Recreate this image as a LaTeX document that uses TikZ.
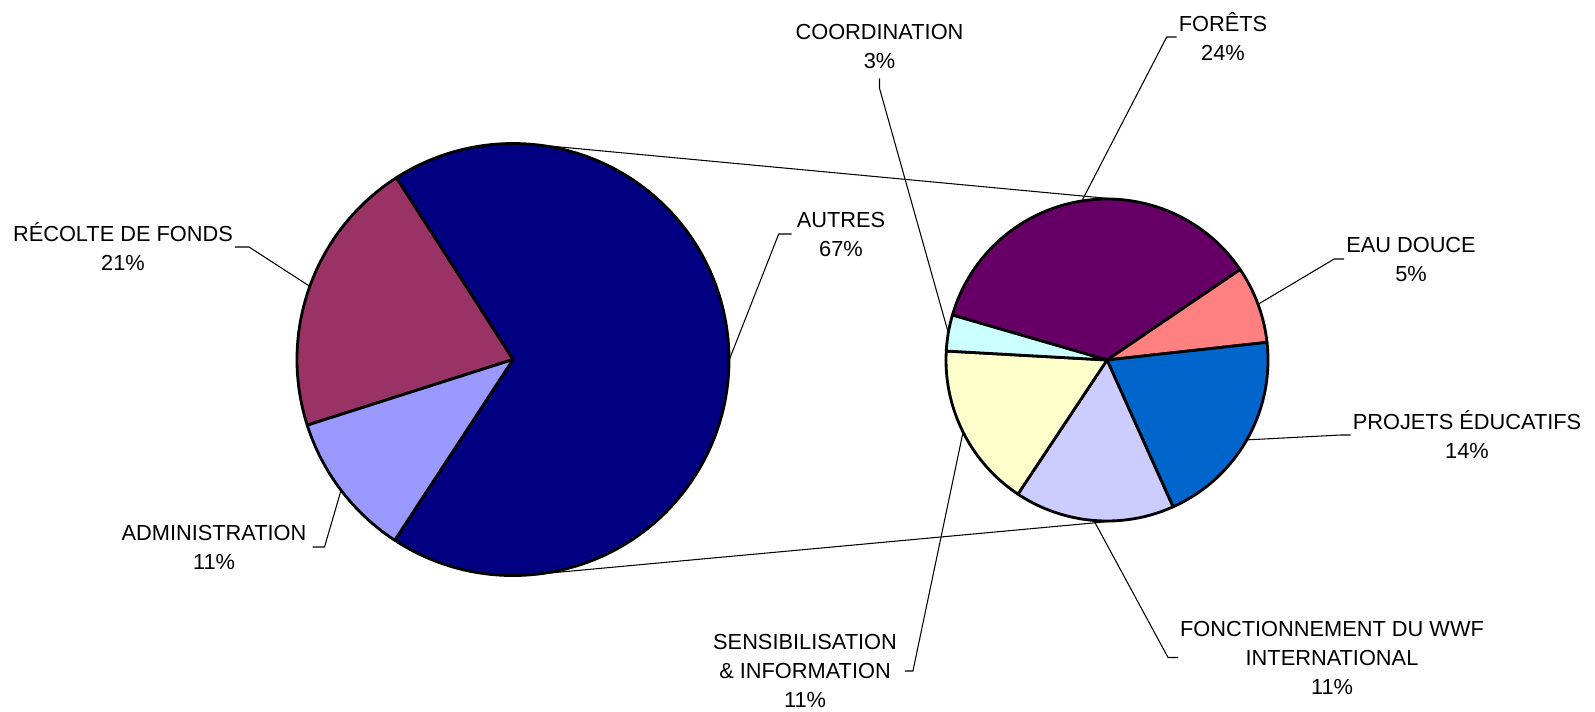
\documentclass[tikz,border=0pt]{standalone}
\usepackage{fontspec}
\setmainfont{Liberation Sans}
\usetikzlibrary{calc}

\definecolor{blunotte}{HTML}{000080}
\definecolor{prugna}{HTML}{993366}
\definecolor{lilla}{HTML}{9999FF}
\definecolor{viola}{HTML}{660066}
\definecolor{salmone}{HTML}{FF8080}
\definecolor{azzurro}{HTML}{0066CC}
\definecolor{glicine}{HTML}{CCCCFF}
\definecolor{crema}{HTML}{FFFFCC}
\definecolor{ghiaccio}{HTML}{CCFFFF}

\begin{document}
\begin{tikzpicture}[x=0.02cm,y=0.02cm]
    % Definizione stili
    \tikzstyle{fetta}=[draw=black, line width=1.6pt, line join=round]
    \tikzstyle{etichetta}=[font=\fontsize{12.4}{16.5}\selectfont, align=center, inner sep=1pt]
    \tikzstyle{guida}=[draw=black, line width=0.6pt]

    \useasboundingbox (0,0) rectangle (1595,-711);

    % Centri delle due torte
    \coordinate (grande) at (513,-359.5);
    \coordinate (piccola) at (1107,-360);

    % Linee di collegamento tra le torte
    \coordinate (big_su) at ($(grande)+(84.7:216)$);
    \coordinate (big_giu) at ($(grande)+(-84.7:216)$);
    \coordinate (small_su) at ($(piccola)+(84.7:161)$);
    \coordinate (small_giu) at ($(piccola)+(-84.7:161)$);
    \draw[guida] (big_su) -- (small_su);
    \draw[guida] (big_giu) -- (small_giu);

    % Torta principale
    \filldraw[fetta, fill=blunotte] (grande) -- ($(grande)+(-123.2:216)$) arc[start angle=-123.2, end angle=122.7, radius=216] -- cycle;
    \filldraw[fetta, fill=prugna] (grande) -- ($(grande)+(122.7:216)$) arc[start angle=122.7, end angle=197.7, radius=216] -- cycle;
    \filldraw[fetta, fill=lilla] (grande) -- ($(grande)+(197.7:216)$) arc[start angle=197.7, end angle=236.8, radius=216] -- cycle;

    % Torta secondaria (dettaglio di AUTRES)
    \filldraw[fetta, fill=viola] (piccola) -- ($(piccola)+(34.2:161)$) arc[start angle=34.2, end angle=163.8, radius=161] -- cycle;
    \filldraw[fetta, fill=salmone] (piccola) -- ($(piccola)+(6.3:161)$) arc[start angle=6.3, end angle=34.2, radius=161] -- cycle;
    \filldraw[fetta, fill=azzurro] (piccola) -- ($(piccola)+(-65.8:161)$) arc[start angle=-65.8, end angle=6.3, radius=161] -- cycle;
    \filldraw[fetta, fill=glicine] (piccola) -- ($(piccola)+(-123.6:161)$) arc[start angle=-123.6, end angle=-65.8, radius=161] -- cycle;
    \filldraw[fetta, fill=crema] (piccola) -- ($(piccola)+(176.8:161)$) arc[start angle=176.8, end angle=236.4, radius=161] -- cycle;
    \filldraw[fetta, fill=ghiaccio] (piccola) -- ($(piccola)+(163.8:161)$) arc[start angle=163.8, end angle=176.8, radius=161] -- cycle;

    % Etichette
    \node[etichetta] (lbl_recolte) at (123,-247) {RÉCOLTE DE FONDS\\21\%};
    \node[etichetta] (lbl_admin) at (214,-547) {ADMINISTRATION\\11\%};
    \node[etichetta] (lbl_autres) at (841,-234) {AUTRES\\67\%};
    \node[etichetta] (lbl_coord) at (879.5,-46) {COORDINATION\\3\%};
    \node[etichetta] (lbl_forets) at (1223,-37) {FORÊTS\\24\%};
    \node[etichetta] (lbl_eau) at (1411,-259) {EAU DOUCE\\5\%};
    \node[etichetta] (lbl_projets) at (1467,-435) {PROJETS ÉDUCATIFS\\14\%};
    \node[etichetta] (lbl_fonct) at (1332,-657.5) {FONCTIONNEMENT DU WWF\\INTERNATIONAL\\11\%};
    \node[etichetta] (lbl_sens) at (805,-671) {SENSIBILISATION\\\& INFORMATION\\11\%};

    % Punti sul bordo delle fette
    \coordinate (bordo_recolte) at ($(grande)+(160.2:216)$);
    \coordinate (bordo_admin) at ($(grande)+(217.25:216)$);
    \coordinate (bordo_autres) at ($(grande)+(-0.25:216)$);
    \coordinate (bordo_coord) at ($(piccola)+(170.3:161)$);
    \coordinate (bordo_forets) at ($(piccola)+(99:161)$);
    \coordinate (bordo_eau) at ($(piccola)+(20.25:161)$);
    \coordinate (bordo_projets) at ($(piccola)+(-29.75:161)$);
    \coordinate (bordo_fonct) at ($(piccola)+(-94.7:161)$);
    \coordinate (bordo_sens) at ($(piccola)+(206.6:161)$);

    % Linee guida delle etichette
    \draw[guida] (lbl_recolte.east) -- ++(14,0) -- (bordo_recolte);
    \draw[guida] (lbl_admin.east) ++(4,0) -- ++(12,0) -- (bordo_admin);
    \draw[guida] (lbl_autres.west) ++(-3,0) -- ++(-13,0) -- (bordo_autres);
    \draw[guida] (lbl_coord.south) ++(0,-8) -- ++(0,-10) -- (bordo_coord);
    \draw[guida] (lbl_forets.west) -- ++(-10,0) -- (bordo_forets);
    \draw[guida] (lbl_eau.west) -- ++(-10,0) -- (bordo_eau);
    \draw[guida] (lbl_projets.west) -- ++(-10,0) -- (bordo_projets);
    \draw[guida] (lbl_fonct.west) -- ++(-10,0) -- (bordo_fonct);
    \draw[guida] (lbl_sens.east) ++(6,0) -- ++(8,0) -- (bordo_sens);
\end{tikzpicture}
\end{document}
